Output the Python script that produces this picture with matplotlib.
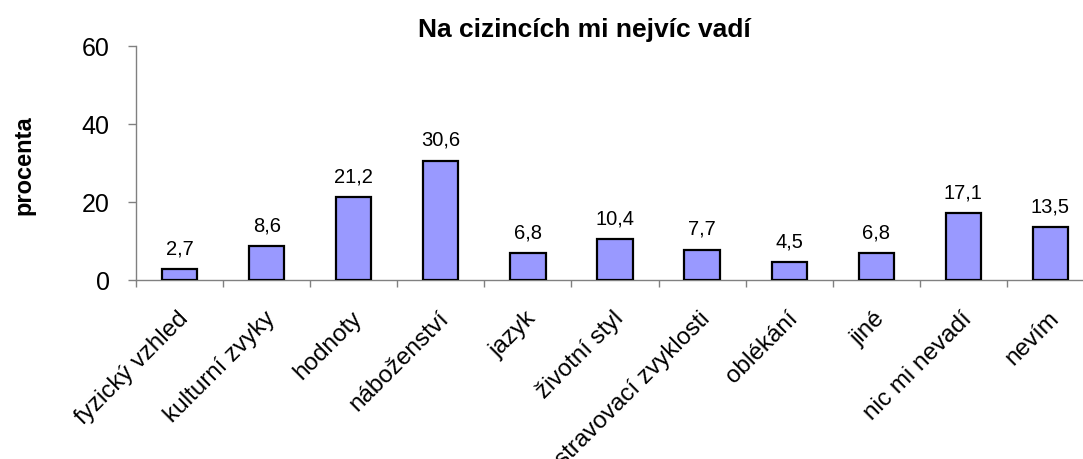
import matplotlib
matplotlib.use("Agg")
import matplotlib.pyplot as plt
import matplotlib.transforms as mtransforms
import numpy as np

categories = ["fyzický vzhled", "kulturní zvyky", "hodnoty", "náboženství", "jazyk",
              "životní styl", "stravovací zvyklosti", "oblékání", "jiné",
              "nic mi nevadí", "nevím"]
values = [2.7, 8.6, 21.2, 30.6, 6.8, 10.4, 7.7, 4.5, 6.8, 17.1, 13.5]
value_labels = ["2,7", "8,6", "21,2", "30,6", "6,8", "10,4", "7,7", "4,5", "6,8", "17,1", "13,5"]
yticks = [0, 20, 40, 60]
title = "Na cizincích mi nejvíc vadí"
ylabel = "procenta"

plt.rcParams['font.family'] = ['Liberation Sans', 'DejaVu Sans']

W, H = 1083, 459
fig = plt.figure(figsize=(W / 100, H / 100), dpi=100)
left, right, top, bottom = 136, 1094, 46, 280
ax = fig.add_axes([left / W, 1 - bottom / H, (right - left) / W, (bottom - top) / H])

x = np.arange(len(categories))
ax.bar(x, values, width=0.405, color="#9999FF", edgecolor="black", linewidth=1.6, zorder=3)

ax.set_xlim(-0.5, len(categories) - 0.5)
ax.set_ylim(0, 60)
ax.set_yticks(yticks)
ax.set_yticklabels([str(t) for t in yticks], fontsize=18)
ax.tick_params(axis='y', direction='out', length=6, width=1, color='#808080', pad=13)
ax.set_xticks(np.arange(-0.5, len(categories), 1.0))
ax.set_xticklabels([])
ax.tick_params(axis='x', direction='out', length=5, width=1, color='#808080')

for s in ['top', 'right']:
    ax.spines[s].set_visible(False)
for s in ['left', 'bottom']:
    ax.spines[s].set_color('#808080')
    ax.spines[s].set_linewidth(1)

# category labels
trans = mtransforms.offset_copy(ax.get_xaxis_transform(), fig=fig, x=-2, y=-20, units='points')
for xi, c in zip(x, categories):
    ax.text(xi, 0, c, transform=trans, rotation=45, ha='right', va='top',
            rotation_mode='anchor', fontsize=17.5, clip_on=False)

# value labels
for xi, v, lab in zip(x, values, value_labels):
    ax.annotate(lab, (xi, v), xytext=(0, 11), textcoords='offset points',
                ha='center', va='baseline', fontsize=14.5)

fig.text(584 / W, 1 - 30 / H, title, ha='center', va='center', fontsize=19, fontweight='bold')
fig.text(24 / W, 1 - 165 / H, ylabel, ha='center', va='center', rotation=90,
         fontsize=17, fontweight='bold')

fig.savefig("out.png", dpi=100)
